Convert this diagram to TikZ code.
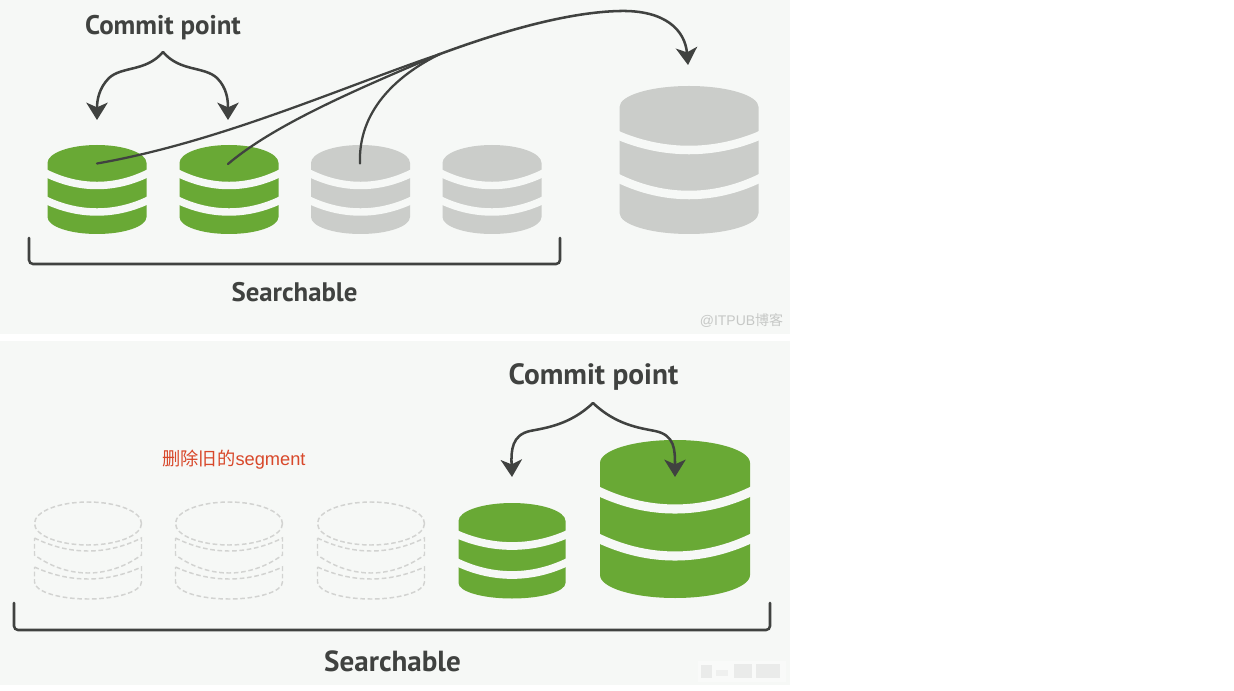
\documentclass[tikz,border=0pt]{standalone}
\usepackage{fontspec}
\setmainfont{PT Sans}
\newfontfamily\cjkf{Noto Sans CJK SC}
\newfontfamily\wmf{Liberation Sans}
\usetikzlibrary{arrows.meta}
\definecolor{bgc}{HTML}{F6F8F6}
\definecolor{grn}{HTML}{69A935}
\definecolor{gry}{HTML}{CBCDCA}
\definecolor{ink}{HTML}{404240}
\definecolor{dsh}{HTML}{D2D3D1}
\definecolor{redt}{HTML}{D8482A}
\definecolor{wm}{HTML}{C6C8C6}
\tikzset{
  conn/.style={draw=ink,line width=1.9pt,line cap=round},
  thin conn/.style={draw=ink,line width=1.7pt,line cap=round},
  arr/.style={conn,-{Stealth[length=13pt,width=16pt,inset=3.5pt]}},
  brk/.style={draw=ink,line width=1.9pt,rounded corners=3pt,line cap=round},
  label/.style={font=\bfseries\fontsize{#1}{#1}\selectfont,text=ink,inner sep=0pt,anchor=center},
  ghost/.style={draw=dsh,line width=1.1pt,dash pattern=on 3.5pt off 2pt},
}
% geometry: top, side-top, stripe1 side, stripe1 centre, stripe2 side, stripe2 centre, side-bottom, bottom, stripe width
\newcommand{\cylgeom}[9]{\def\cT{#1}\def\cS{#2}\def\cA{#3}\def\cB{#4}\def\cC{#5}\def\cD{#6}\def\cE{#7}\def\cF{#8}\def\cW{#9}}
% sagging arc from left side to right side: cx rx side centre
\newcommand{\sag}[4]{({#1-#2},#3) .. controls ({#1-0.35*#2},{#3+1.333*(#4-#3)}) and ({#1+0.35*#2},{#3+1.333*(#4-#3)}) .. ({#1+#2},#3)}
\newcommand{\band}[4]{({#1-#2-8},{#3-4}) -- \sag{#1}{#2}{#3}{#4} -- ({#1+#2+8},{#3-4})}
\newcommand{\cyl}[3]{% cx rx colour
  \fill[#3] ({#1-#2},\cS) arc[start angle=180,end angle=360,x radius=#2,y radius={\cS-\cT}]
    -- ({#1+#2},\cE) arc[start angle=0,end angle=180,x radius=#2,y radius={\cF-\cE}] -- cycle;
  \draw[bgc,line width=\cW pt] \band{#1}{#2}{\cA}{\cB};
  \draw[bgc,line width=\cW pt] \band{#1}{#2}{\cC}{\cD};
}
\newcommand{\ghostcyl}[1]{%
  \draw[ghost] (#1,523.5) ellipse[x radius=53.5,y radius=21.5];
  \draw[ghost] \sag{#1}{53.5}{538}{551} -- ({#1+53.5},555) .. controls ({#1+20},{579}) and ({#1-20},{579}) .. ({#1-53.5},555) -- cycle;
  \draw[ghost] \sag{#1}{53.5}{567}{579} -- ({#1+53.5},582) arc[start angle=0,end angle=180,x radius=53.5,y radius=17] -- cycle;
}
\begin{document}
\begin{tikzpicture}[x=0.75pt,y=-0.75pt]
\useasboundingbox (0,0) rectangle (1234,691);
\fill[white] (0,0) rectangle (1234,691);
\fill[bgc] (0,0) rectangle (790,334);
\fill[bgc] (0,341) rectangle (790,685);

% top panel cylinders
\cylgeom{145}{163}{174}{185.5}{201}{212}{217}{234}{5.6}
\cyl{97}{49.5}{grn}
\cyl{229}{49.5}{grn}
\cyl{360.5}{49.5}{gry}
\cyl{492}{49.5}{gry}
\cylgeom{86}{107}{136}{150}{179}{195}{213}{234}{6.4}
\cyl{689}{69.5}{gry}

% top panel connectors
\coordinate (apexA) at (163,52);
\coordinate (tipA) at (97,120);
\coordinate (tipB) at (228,120);
\coordinate (startA) at (97,163.5);
\coordinate (startB) at (228,164);
\coordinate (startC) at (360,163.5);
\coordinate (merge) at (440,54);
\coordinate (tipM) at (688,65);
\draw[arr] (apexA) .. controls (146,72) and (122,66) .. (109,78) .. controls (99,88) and (97,100) .. (tipA);
\draw[arr] (apexA) .. controls (180,72) and (204,66) .. (217,78) .. controls (227,88) and (228,100) .. (tipB);
\draw[thin conn] (startA) .. controls (220,142) and (340,88) .. (merge);
\draw[thin conn] (startB) .. controls (275,124) and (360,88) .. (merge);
\draw[thin conn] (startC) .. controls (358,112) and (395,76) .. (merge);
\draw[arr] (merge) .. controls (505,30) and (570,12) .. (620,11) .. controls (665,10) and (685,30) .. (tipM);
\coordinate (brA1) at (29,238);
\coordinate (brA2) at (560,238);
\draw[brk] (brA1) -- (29,264) -- (560,264) -- (brA2);

\node[label=20.2] (commitA) at (163,27.5) {Commit point};
\node[label=20.1] (searchA) at (294.5,292) {Searchable};
\node[inner sep=0pt,text=wm,font=\fontsize{10.5}{10.5}\selectfont] (wmark) at (741.5,320.5) {\wmf @ITPUB\cjkf 博客};

% bottom panel cylinders
\ghostcyl{88}
\ghostcyl{229}
\ghostcyl{371}
\cylgeom{503}{521}{535}{546}{563}{575}{583}{598.5}{5.8}
\cyl{512}{53.5}{grn}
\cylgeom{440}{463}{492}{509}{539}{556}{575}{598}{6.8}
\cyl{675}{75}{grn}

% bottom panel connectors
\coordinate (apexB) at (593,403);
\coordinate (tipC) at (512,477);
\coordinate (tipD) at (675,477);
\draw[arr] (apexB) .. controls (570,425) and (545,428) .. (530,431) .. controls (512,435) and (511,450) .. (tipC);
\draw[arr] (apexB) .. controls (616,425) and (640,428) .. (655,431) .. controls (675,435) and (675,450) .. (tipD);
\coordinate (brB1) at (14,603);
\coordinate (brB2) at (770,603);
\draw[brk] (brB1) -- (14,630) -- (770,630) -- (brB2);

\node[label=22] (commitB) at (593.5,376.5) {Commit point};
\node[label=21.8] (searchB) at (392.5,661) {Searchable};
\node[inner sep=0pt,text=redt,font=\fontsize{13.7}{13.7}\selectfont] (note) at (234,460) {\cjkf 删除旧的\wmf segment};

% blurred watermark
\fill[white,opacity=.4] (698,661) rectangle (786,682);
\fill[gray!30,opacity=.45] (701,665) rectangle (712,678);
\fill[gray!20,opacity=.45] (716,670) rectangle (728,676);
\fill[gray!30,opacity=.45] (734,664) rectangle (752,678);
\fill[gray!30,opacity=.45] (756,664) rectangle (780,678);
\end{tikzpicture}
\end{document}
